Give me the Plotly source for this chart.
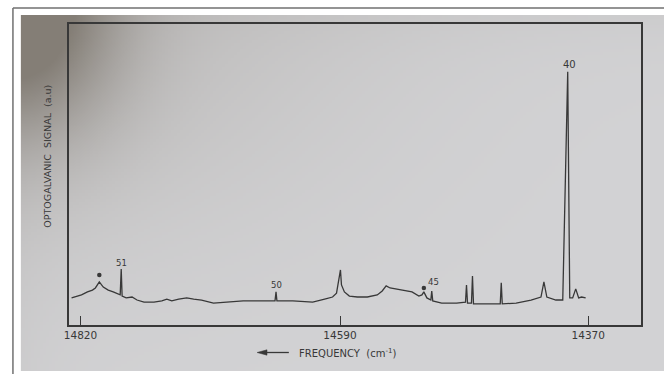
import base64
import struct
import zlib

import numpy as np
import plotly.graph_objects as go

W, H = 664, 374
INK = "#383838"

# Optogalvanic spectrum, frequency in cm^-1 (decreasing to the right)
freq = [14827.9, 14823.5, 14819.1, 14813.8, 14809.4, 14806.8, 14803.3, 14799.8,
        14795.4, 14791.0, 14786.6, 14784.8, 14783.9, 14783.1, 14779.5, 14774.3,
        14769.9, 14763.7, 14754.9, 14747.9, 14743.5, 14739.1, 14732.9, 14725.9,
        14719.7, 14712.7, 14702.1, 14691.6, 14675.8, 14662.6, 14647.6, 14646.7,
        14645.9, 14631.8, 14614.2, 14603.6, 14596.6, 14593.1, 14591.3, 14589.6,
        14588.7, 14586.1, 14581.7, 14574.6, 14565.8, 14557.0, 14552.6, 14549.1,
        14545.6, 14535.0, 14526.2, 14520.1, 14517.4, 14515.7, 14513.0, 14509.5,
        14508.7, 14507.8, 14499.9, 14486.7, 14478.8, 14477.9, 14477.0, 14473.5,
        14472.6, 14471.7, 14460.3, 14448.0, 14447.1, 14446.2, 14433.9, 14420.7,
        14411.9, 14409.3, 14406.7, 14398.7, 14392.6, 14388.2, 14386.4, 14383.8,
        14381.1, 14378.5, 14375.9, 14372.3]
signal = [9.0, 9.6, 10.0, 11.0, 11.6, 12.3, 14.3, 12.6,
          11.6, 11.0, 10.3, 10.0, 18.6, 9.6, 9.0, 9.3,
          8.3, 7.6, 7.6, 8.0, 8.6, 8.0, 8.6, 9.0,
          8.6, 8.3, 7.3, 7.6, 8.0, 8.0, 8.0, 11.0,
          8.0, 8.0, 7.6, 8.6, 9.3, 10.6, 14.0, 18.3,
          13.3, 11.0, 9.6, 9.3, 9.3, 10.0, 11.3, 13.0,
          12.3, 11.6, 11.0, 9.6, 10.0, 11.0, 9.0, 8.3,
          11.3, 8.0, 7.3, 7.3, 7.6, 13.3, 7.3, 7.3,
          16.3, 7.0, 7.0, 7.0, 14.0, 7.0, 7.3, 8.3,
          9.3, 14.3, 9.3, 8.3, 8.3, 84.1, 9.0, 9.0,
          12.0, 9.0, 9.3, 9.0]

# Line numbers written above the assigned peaks
line_labels = ["51", "50", "45", "40"]
label_freq = [14783.9, 14646.7, 14506.9, 14386.4]
label_signal = [20.6, 13.3, 14.3, 86.4]
label_size = [8.5, 8.5, 8.5, 10]

# Peaks marked with an asterisk
star_freq = [14803.3, 14515.7]
star_signal = [16.6, 12.3]

tick_vals = [14820, 14590, 14370]
x_range = [14830.6, 14323.1]
y_range = [0, 100]


def px(x):
    return x / W


def py(y):
    return 1 - y / H


def photo_background(w, h):
    """Grey photographic paper tone, darker towards the upper left corner."""
    ys, xs = np.mgrid[0:h, 0:w]
    X = xs / (w - 1) * 648.0
    Y = ys / (h - 1) * 356.0
    light = np.array([211.0, 211.0, 213.0])
    dark = np.array([132.0, 126.0, 118.0])
    wgt = 0.9 * np.exp(-((X / 95.0) ** 2 + (Y / 120.0) ** 2))
    wgt += 0.25 * np.exp(-((X / 330.0) ** 2 + (Y / 220.0) ** 2))
    wgt += 0.07 * np.exp(-Y / 35.0)
    wgt += 0.06 * np.exp(-X / 40.0)
    wgt = np.clip(wgt, 0, 1)
    img = light * (1 - wgt[..., None]) + dark * wgt[..., None]
    img = np.clip(img, 0, 255).astype(np.uint8)
    raw = b"".join(b"\x00" + img[r].tobytes() for r in range(h))

    def chunk(tag, data):
        return (struct.pack(">I", len(data)) + tag + data
                + struct.pack(">I", zlib.crc32(tag + data) & 0xFFFFFFFF))

    png = (b"\x89PNG\r\n\x1a\n"
           + chunk(b"IHDR", struct.pack(">IIBBBBB", w, h, 8, 2, 0, 0, 0))
           + chunk(b"IDAT", zlib.compress(raw, 9))
           + chunk(b"IEND", b""))
    return "data:image/png;base64," + base64.b64encode(png).decode()


fig = go.Figure()

fig.add_trace(go.Scatter(
    x=freq, y=signal, mode="lines",
    line=dict(color=INK, width=1.3),
    hoverinfo="skip",
))
fig.add_trace(go.Scatter(
    x=star_freq, y=star_signal, mode="markers",
    marker=dict(color=INK, size=4.5, symbol="circle"),
    hoverinfo="skip",
))

for txt, fx, fy, fs in zip(line_labels, label_freq, label_signal, label_size):
    fig.add_annotation(x=fx, y=fy, xref="x", yref="y", text=txt, showarrow=False,
                       xanchor="center", yanchor="middle",
                       font=dict(family="DejaVu Sans", size=fs, color=INK))

# axis titles
fig.add_annotation(
    x=px(42), y=py(156), xref="paper", yref="paper",
    xanchor="center", yanchor="middle",
    text="OPTOGALVANIC\u00a0\u00a0SIGNAL\u00a0\u00a0(a.u)", textangle=-90,
    showarrow=False, font=dict(family="DejaVu Sans", size=9.5, color=INK),
)
fig.add_annotation(
    x=px(345), y=py(353), xref="paper", yref="paper",
    xanchor="center", yanchor="middle",
    text="FREQUENCY\u00a0\u00a0(cm<sup>-1</sup>)", showarrow=False,
    font=dict(family="DejaVu Sans", size=10, color=INK),
)

# direction arrow left of the frequency title
fig.add_shape(type="line", xref="paper", yref="paper",
              x0=px(262), x1=px(286), y0=py(352.5), y1=py(352.5),
              line=dict(color=INK, width=1.3))
fig.add_shape(type="path", xref="paper", yref="paper",
              path=(f"M {px(254)} {py(352.5)} L {px(264)} {py(349.8)} "
                    f"L {px(264)} {py(355.2)} Z"),
              fillcolor=INK, line=dict(color=INK, width=0.5))

# outer mount frame
fig.add_shape(type="line", xref="paper", yref="paper",
              x0=px(8), x1=px(8), y0=0, y1=py(8),
              line=dict(color="#707070", width=1.5))
fig.add_shape(type="line", xref="paper", yref="paper",
              x0=px(8), x1=1, y0=py(8), y1=py(8),
              line=dict(color="#707070", width=1.5))

fig.add_layout_image(dict(
    source=photo_background(216, 119), xref="paper", yref="paper",
    x=px(16), y=py(15), sizex=648 / W, sizey=356 / H,
    sizing="stretch", xanchor="left", yanchor="top", layer="below",
))

fig.update_layout(
    width=W, height=H,
    margin=dict(l=0, r=0, t=0, b=0),
    paper_bgcolor="white",
    plot_bgcolor="rgba(0,0,0,0)",
    showlegend=False,
    xaxis=dict(
        domain=[px(64), px(641)], range=x_range,
        tickvals=tick_vals, ticktext=[str(v) for v in tick_vals],
        ticks="inside", ticklen=9, tickwidth=1.3, tickcolor=INK,
        showline=True, linecolor=INK, linewidth=1.5, mirror=True,
        showgrid=False, zeroline=False,
        tickfont=dict(family="DejaVu Sans", size=10.5, color=INK),
    ),
    yaxis=dict(
        domain=[py(325), py(24)], range=y_range,
        showline=True, linecolor=INK, linewidth=1.5, mirror=True,
        showticklabels=False, ticks="", showgrid=False, zeroline=False,
    ),
)

fig.write_html("out.html")
